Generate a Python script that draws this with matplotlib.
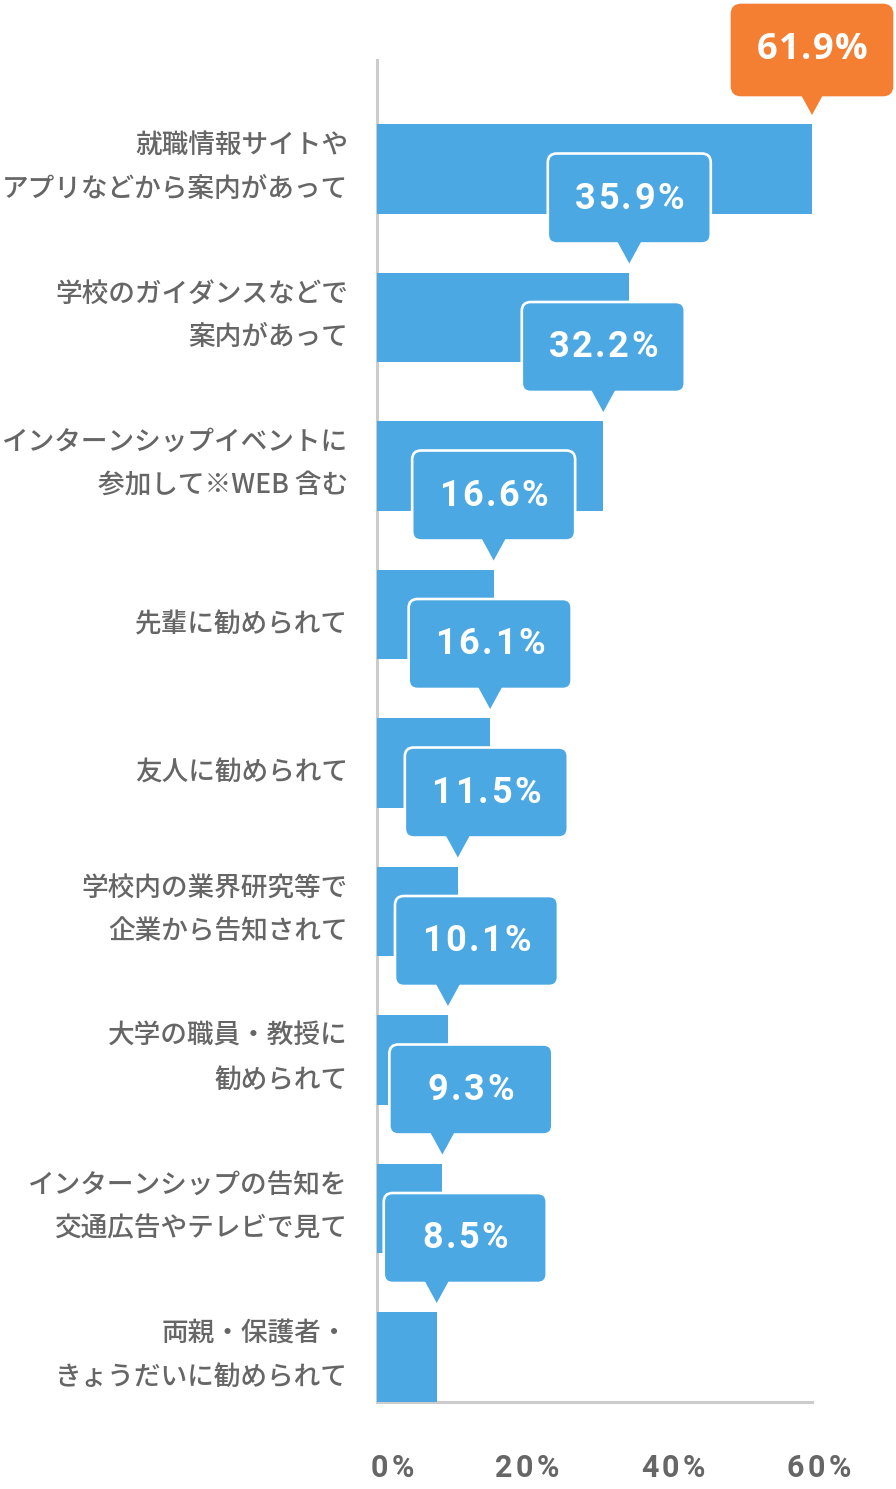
import matplotlib
matplotlib.use("Agg")
import matplotlib.pyplot as plt
import matplotlib.transforms as mtransforms
from matplotlib.patches import FancyBboxPatch, Polygon

## data
labels = [
    "就職情報サイトや\nアプリなどから案内があって",
    "学校のガイダンスなどで\n案内があって",
    "インターンシップイベントに\n参加して※WEB 含む",
    "先輩に勧められて",
    "友人に勧められて",
    "学校内の業界研究等で\n企業から告知されて",
    "大学の職員・教授に\n勧められて",
    "インターンシップの告知を\n交通広告やテレビで見て",
    "両親・保護者・\nきょうだいに勧められて",
]
values = [61.9, 35.9, 32.2, 16.6, 16.1, 11.5, 10.1, 9.3, 8.5]
tick_labels = ["0%", "20%", "40%", "60%"]

BLUE = "#4BA8E3"
ORANGE = "#F47E32"
GREY = "#666666"
JP = ["Noto Sans CJK JP", "DejaVu Sans"]

W, H = 896, 1489
fig = plt.figure(figsize=(W / 100, H / 100), dpi=100)
ax = fig.add_axes([377 / W, 1 - 1402 / H, (812 - 377) / W, (1402 - 60) / H])
renderer = fig.canvas.get_renderer()


def spaced_text(xpx, ypx, s, gap, **kw):
    ## draw a string centred at (xpx, ypx) pixels with extra letter spacing
    parts = [fig.text(0, 0, c, ha="left", va="center", **kw) for c in s]
    widths = [p.get_window_extent(renderer).width for p in parts]
    total = sum(widths) + gap * (len(s) - 1)
    x = xpx - total / 2
    for p, w in zip(parts, widths):
        p.set_position((x / W, ypx / H))
        x += w + gap


bar_h = 0.606
y = list(range(len(values)))
ax.barh(y, values, height=bar_h, color=BLUE, zorder=2)
ax.set_xlim(0, max(values))
ax.set_ylim(8.303, -0.734)

for s in ["top", "right"]:
    ax.spines[s].set_visible(False)
for s in ["left", "bottom"]:
    ax.spines[s].set_color("#cccccc")
    ax.spines[s].set_linewidth(2.2)
    ax.spines[s].set_zorder(1)

ax.set_xticks([])
ax.set_yticks(y)
ax.set_yticklabels(labels, ha="right", family=JP, fontweight="medium",
                   fontsize=19.2, color=GREY, linespacing=1.8)
ax.tick_params(axis="y", length=0, pad=21)
for t in ax.get_yticklabels():
    dy = 13 if "\n" in t.get_text() else -7
    t.set_transform(t.get_transform() + mtransforms.Affine2D().translate(0, dy))

## x tick labels sit a little off the data scale in the original
for lab, px in zip(tick_labels, [392, 527, 673, 819]):
    spaced_text(px, H - 1468, lab, 3.5, family="Roboto", fontweight="bold",
                fontsize=22, color=GREY)

## speech-bubble labels above each bar
ident = mtransforms.IdentityTransform()
for i, v in enumerate(values):
    x0, y0 = ax.transData.transform((v, i - bar_h / 2))
    col = ORANGE if i == 0 else BLUE
    bw = 160 if i == 0 else 163
    left = x0 - bw / 2
    if left < 400:
        left = x0 - 53
    box = FancyBboxPatch((left, y0 + 29), bw, 90,
                         boxstyle="round,pad=0,rounding_size=9",
                         facecolor=col, edgecolor="white" if i else col,
                         linewidth=1.9, transform=ident, zorder=5 + i,
                         clip_on=False)
    fig.add_artist(box)
    tri = Polygon([(x0 - 12, y0 + 31), (x0 + 12, y0 + 31), (x0, y0 + 9)],
                  closed=True, facecolor=col, edgecolor="none",
                  transform=ident, zorder=5.5 + i, clip_on=False)
    fig.add_artist(tri)
    fam = ["Open Sans", "DejaVu Sans"] if i == 0 else ["Roboto", "DejaVu Sans"]
    spaced_text(left + bw / 2, y0 + 29 + 45, f"{v:.1f}%",
                1.5 if i == 0 else 2.6, family=fam, fontweight="bold",
                fontsize=26, color="white", zorder=6 + i)

fig.savefig("out.png", dpi=100)
